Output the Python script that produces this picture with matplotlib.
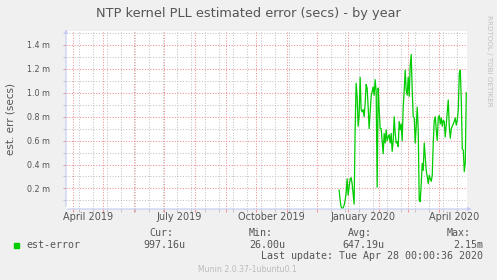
import numpy as np
import matplotlib
matplotlib.use('Agg')
import matplotlib.pyplot as plt
import matplotlib.dates as mdates
from matplotlib.ticker import MultipleLocator, FixedLocator, FuncFormatter, NullFormatter
from matplotlib.patches import Rectangle

title = 'NTP kernel PLL estimated error (secs) - by year'
ylabel = 'est. err (secs)'
series_name = 'est-error'

# one value per day from start_day on, in milliseconds
start_day = '2019-12-23'
est_err = [
    0.186, 0.102, 0.046, 0.032, 0.038, 0.06, 0.10, 0.158, 0.28, 0.144,
    0.214, 0.28, 0.29, 0.24, 0.158, 0.069, 0.69, 1.08, 0.97, 0.72,
    0.81, 1.13, 0.86, 0.84, 0.86, 0.80, 0.91, 1.07, 1.04, 0.88,
    0.70, 0.83, 0.97, 1.01, 1.05, 0.98, 1.11, 1.01, 0.21, 1.04,
    0.86, 0.70, 0.70, 0.60, 0.49, 0.66, 0.58, 0.69, 0.60, 0.63,
    0.65, 0.58, 0.66, 0.51, 0.60, 0.80, 0.66, 0.58, 0.59, 0.55,
    0.76, 0.69, 0.74, 0.60, 0.88, 1.02, 1.19, 1.02, 0.98, 1.13,
    0.97, 1.23, 1.32, 1.02, 0.80, 0.79, 0.58, 0.72, 0.88, 0.69,
    0.10, 0.09, 0.24, 0.41, 0.35, 0.58, 0.47, 0.35, 0.30, 0.24,
    0.31, 0.28, 0.26, 0.31, 0.58, 0.77, 0.80, 0.69, 0.60, 0.79,
    0.81, 0.74, 0.79, 0.72, 0.77, 0.76, 0.63, 0.74, 0.84, 0.94,
    0.72, 0.62, 0.70, 0.72, 0.74, 0.76, 0.79, 0.73, 0.77, 0.86,
    1.16, 1.19, 0.94, 0.53, 0.52, 0.34, 0.42, 1.00,
]

x_labels = ['April 2019', 'July 2019', 'October 2019', 'January 2020', 'April 2020']
x_label_days = ['2019-04-16', '2019-07-16', '2019-10-16', '2020-01-16', '2020-04-16']

summary_heads = ['Cur:', 'Min:', 'Avg:', 'Max:']
summary_vals = ['997.16u', '26.00u', '647.19u', '2.15m']
last_update = 'Last update: Tue Apr 28 00:00:36 2020'
footer = 'Munin 2.0.37-1ubuntu0.1'
side_text = 'RRDTOOL / TOBI OETIKER'

W, H = 497, 280
bg = '#F0F0F0'
fg = '#555555'
green = '#00CC00'
axis_col = '#C4CBF5'

fig = plt.figure(figsize=(W / 100, H / 100), dpi=100, facecolor=bg)
ax = fig.add_axes([66 / W, 1 - 209 / H, 401 / W, 178 / H], facecolor='white')

days = np.datetime64(start_day) + np.arange(len(est_err))
ax.plot(days, est_err, color=green, lw=0.9, zorder=3)

ax.set_xlim(np.datetime64('2019-03-25T07:00'), np.datetime64('2020-04-28T17:00'))
ax.set_ylim(0.028, 1.517)

# grid: red at month starts / 0.2, grey every 2 weeks / 0.1
ax.xaxis.set_major_locator(mdates.MonthLocator())
minor_days = np.arange(np.datetime64('2019-04-07'), np.datetime64('2020-04-29'), np.timedelta64(14, 'D'))
ax.xaxis.set_minor_locator(FixedLocator(mdates.date2num(minor_days)))
ax.xaxis.set_major_formatter(NullFormatter())
ax.yaxis.set_major_locator(MultipleLocator(0.2))
ax.yaxis.set_minor_locator(MultipleLocator(0.1))
ax.yaxis.set_major_formatter(FuncFormatter(lambda v, p: '%.1f m' % v))

ax.set_axisbelow(True)
ax.grid(which='major', color='#EE9090', linestyle=(0, (1, 1.6)), lw=0.75)
ax.grid(which='minor', color='#C4C4C4', linestyle=(0, (1, 1.6)), lw=0.75)
ax.tick_params(which='major', length=2.2, width=0.7, color='#EE9090', labelsize=5.8,
               labelcolor=fg, pad=9)
ax.tick_params(which='minor', length=2.2, width=0.7, color='#C4C4C4')

for s in ax.spines.values():
    s.set_visible(False)

ax.annotate('', xy=(0, 1.025), xytext=(0, 0), xycoords='axes fraction',
            arrowprops=dict(arrowstyle='-|>', color=axis_col, lw=0.8, mutation_scale=5),
            annotation_clip=False)
ax.annotate('', xy=(1.018, 0), xytext=(-0.003, 0), xycoords='axes fraction',
            arrowprops=dict(arrowstyle='-|>', color=axis_col, lw=0.8, mutation_scale=5),
            annotation_clip=False)

trans = ax.get_xaxis_transform()
for lab, d in zip(x_labels, x_label_days):
    ax.text(np.datetime64(d), -0.045, lab, transform=trans, ha='center', va='center',
            fontsize=7.0, color=fg)

fig.text(248.5 / W, 1 - 14 / H, title, ha='center', va='center', fontsize=9.3, color=fg)
fig.text(11 / W, 1 - 119 / H, ylabel, ha='center', va='center', rotation=90,
         fontsize=7.5, color=fg)
fig.text(489 / W, 1 - 61 / H, side_text, ha='center', va='center', rotation=270,
         fontsize=5.1, color='#C0C0C0')

mono = 'DejaVu Sans Mono'
head_x = [149, 249, 348, 447]
val_x = [185, 285, 384, 483]
for hx, h in zip(head_x, summary_heads):
    fig.text(hx / W, 1 - 233 / H, h, ha='left', va='center', fontsize=7.2,
             family=mono, color=fg)
for vx, v in zip(val_x, summary_vals):
    fig.text(vx / W, 1 - 245 / H, v, ha='right', va='center', fontsize=7.2,
             family=mono, color=fg)
fig.patches.append(Rectangle((14 / W, 1 - 248 / H), 5.3 / W, 5.3 / H,
                             transform=fig.transFigure, color=green))
fig.text(26 / W, 1 - 245 / H, series_name, ha='left', va='center', fontsize=7.2,
         family=mono, color=fg)
fig.text(483 / W, 1 - 256 / H, last_update, ha='right', va='center', fontsize=7.2,
         family=mono, color=fg)
fig.text(247.5 / W, 1 - 269 / H, footer, ha='center', va='center', fontsize=5.6,
         color='#BBBBBB')

fig.savefig('out.png', dpi=100, facecolor=bg)
